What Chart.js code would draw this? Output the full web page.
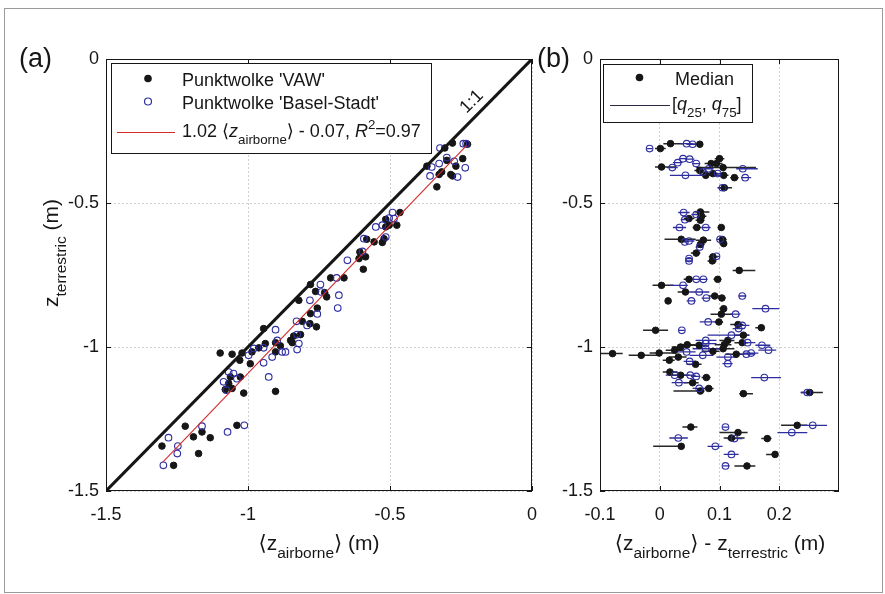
<!DOCTYPE html>
<html>
<head>
<meta charset="utf-8">
<script src="https://cdn.jsdelivr.net/npm/chart.js@4.4.1/dist/chart.umd.min.js"></script>
<style>
    html, body { margin: 0; padding: 0; background: #fff; }
    #wrap { position: relative; width: 885px; height: 594px; overflow: hidden; }
    #frame { position: absolute; left: 4px; top: 8px; width: 879px; height: 585px; border: 1px solid #9a9a9a; box-sizing: border-box; }
    canvas { position: absolute; left: 0; top: 0; }
</style>
</head>
<body>
<div id="wrap">
    <div id="frame"></div>
    <canvas id="chartA" width="885" height="594"></canvas>
    <canvas id="chartB" width="885" height="594"></canvas>
</div>
<script>
// Panel (a): terrestrial vs. mean airborne height
const vawAirborne = [-0.280, -0.307, -0.227, -0.370, -0.300, -0.244, -0.268, -0.318, -0.327, -0.286, -0.280, -0.335,
    -0.465, -0.515, -0.476, -0.515, -0.503, -0.521, -0.527, -0.556, -0.582, -0.606, -0.586, -0.609, -0.594, -0.709, -0.662, -0.723,
    -0.730, -0.762, -0.780, -0.756, -0.780, -0.821, -0.809, -0.782, -0.759, -0.945, -0.850, -0.839, -0.815, -0.844, -0.886, -0.903,
    -0.939, -0.962, -0.986,
    -1.098, -1.056, -1.021, -1.029, -0.992, -0.903, -1.015, -0.903, -1.080, -1.062, -1.068, -1.027, -1.056, -1.039, -1.221, -1.162,
    -1.192, -1.133, -1.303, -1.174, -1.262];
const vawTerrestric = [-0.292, -0.309, -0.296, -0.372, -0.352, -0.346, -0.372, -0.392, -0.401, -0.401, -0.406, -0.444,
    -0.533, -0.557, -0.577, -0.583, -0.577, -0.624, -0.637, -0.635, -0.626, -0.670, -0.687, -0.693, -0.730, -0.760, -0.760, -0.826,
    -0.811, -0.807, -0.783, -0.865, -0.884, -0.838, -0.911, -0.919, -0.930, -0.936, -0.977, -0.962, -0.957, -0.985, -0.996, -0.985,
    -0.988, -1.003, -1.017,
    -1.021, -1.025, -1.021, -1.046, -1.058, -1.154, -1.160, -1.017, -1.148, -1.104, -1.127, -1.104, -1.144, -1.272, -1.275, -1.295,
    -1.312, -1.315, -1.344, -1.370, -1.411];
const baselAirborne = [-0.324, -0.242, -0.232, -0.353, -0.359, -0.300, -0.235, -0.262, -0.327, -0.274,
    -0.491, -0.503, -0.486, -0.550, -0.527, -0.592, -0.515, -0.597, -0.650, -0.688, -0.680, -0.684, -0.745, -0.742, -0.782, -0.756,
    -0.829, -0.792, -0.903, -0.827, -0.821, -0.827, -0.897, -0.880, -0.868, -0.945, -0.980, -0.945, -0.915,
    -0.998, -0.927, -1.086, -1.068, -1.051, -1.039, -1.076, -1.013, -1.072, -1.162, -1.280, -1.247, -1.249, -1.298];
const baselTerrestric = [-0.309, -0.294, -0.294, -0.375, -0.406, -0.342, -0.378, -0.410, -0.363, -0.355,
    -0.533, -0.552, -0.554, -0.583, -0.577, -0.624, -0.618, -0.668, -0.699, -0.760, -0.820, -0.865, -0.783, -0.809, -0.838, -0.885,
    -0.911, -0.925, -0.940, -0.957, -0.988, -1.009, -0.977, -1.017, -1.017, -1.003, -1.005, -1.055, -1.035,
    -1.029, -1.104, -1.121, -1.087, -1.092, -1.110, -1.150, -1.272, -1.295, -1.275, -1.315, -1.344, -1.370, -1.411];
const oneToOne = [-1.5, 0];
const fitX = [-1.30, -0.23];
const fitY = [-1.40, -0.30];
const ticksA = [-1.5, -1, -0.5, 0];

// Panel (b): median difference with [q25, q75] range
const vawDiff = [0.001, 0.018, 0.067, 0.003, 0.100, 0.095, 0.086, 0.106, 0.125, 0.107, 0.077, 0.067, 0.089, 0.108,
    0.068, 0.070, 0.049, 0.068, 0.062, 0.103, 0.036, 0.073, 0.105, 0.107, 0.068, 0.061, 0.089, 0.088, 0.133,
    0.049, 0.097, 0.003, 0.043, 0.092, 0.104, 0.014, 0.107, 0.103, -0.007, 0.099, 0.131, 0.170, 0.140, 0.114, 0.108, 0.138,
    -0.079, -0.031, -0.001, 0.025, 0.035, 0.046, 0.066, 0.089, 0.031, 0.016, 0.060, 0.128, 0.106,
    0.017, 0.035, 0.055, 0.078, 0.082, 0.068, 0.140, 0.251, 0.052, 0.131, 0.120, 0.180, 0.230, 0.036, 0.193, 0.146];
const vawDiffZ = [-0.311, -0.294, -0.296, -0.375, -0.346, -0.363, -0.363, -0.377, -0.412, -0.404, -0.404, -0.387, -0.398, -0.447,
    -0.531, -0.546, -0.554, -0.560, -0.585, -0.585, -0.626, -0.629, -0.627, -0.641, -0.644, -0.674, -0.687, -0.701, -0.734,
    -0.765, -0.765, -0.786, -0.809, -0.823, -0.830, -0.840, -0.867, -0.886, -0.942, -0.913, -0.922, -0.933, -0.959, -0.977, -0.992, -0.985,
    -1.023, -1.029, -1.021, -1.011, -1.000, -0.992, -0.994, -1.015, -1.035, -1.046, -1.060, -1.025, -1.006,
    -1.087, -1.098, -1.124, -1.106, -1.144, -1.153, -1.162, -1.158, -1.278, -1.297, -1.316, -1.318, -1.272, -1.345, -1.373, -1.413];
const vawQ25 = [-0.008, 0.006, 0.045, -0.008, 0.092, 0.085, 0.075, 0.061, 0.118, 0.095, 0.068, 0.058, 0.080, 0.097,
    0.058, 0.062, 0.040, 0.060, 0.055, 0.097, 0.008, 0.060, 0.098, 0.100, 0.062, 0.052, 0.082, 0.080, 0.122,
    0.040, 0.090, -0.012, 0.030, 0.082, 0.098, 0.010, 0.100, 0.085, -0.028, 0.092, 0.118, 0.160, 0.125, 0.100, 0.092, 0.125,
    -0.100, -0.052, -0.017, 0.010, 0.020, 0.030, 0.050, 0.070, 0.015, 0.005, 0.045, 0.110, 0.085,
    0.005, 0.020, 0.040, 0.070, 0.070, 0.023, 0.133, 0.236, 0.038, 0.100, 0.107, 0.170, 0.203, -0.011, 0.178, 0.125];
const vawQ75 = [0.010, 0.040, 0.070, 0.028, 0.108, 0.105, 0.095, 0.161, 0.132, 0.115, 0.088, 0.075, 0.098, 0.121,
    0.083, 0.078, 0.058, 0.075, 0.070, 0.108, 0.060, 0.086, 0.112, 0.112, 0.075, 0.068, 0.098, 0.095, 0.160,
    0.058, 0.103, 0.023, 0.050, 0.100, 0.110, 0.018, 0.112, 0.122, 0.014, 0.106, 0.140, 0.175, 0.150, 0.125, 0.120, 0.148,
    -0.062, 0.000, 0.028, 0.040, 0.048, 0.060, 0.080, 0.100, 0.045, 0.025, 0.070, 0.140, 0.125,
    0.030, 0.050, 0.065, 0.085, 0.090, 0.075, 0.156, 0.273, 0.063, 0.147, 0.142, 0.187, 0.247, 0.041, 0.197, 0.160];
const baselDiff = [-0.017, 0.045, 0.055, 0.021, 0.030, 0.039, 0.050, 0.061, 0.043, 0.139, 0.143, 0.082, 0.072, 0.097, 0.105,
    0.040, 0.061, 0.042, 0.033, 0.077, 0.049, 0.042, 0.101, 0.067, 0.049, 0.095, 0.049,
    0.061, 0.073, 0.039, 0.066, 0.078, 0.138, 0.053, 0.177, 0.127, 0.037, 0.081, 0.138, 0.132, 0.120, 0.077, 0.077, 0.077, 0.147, 0.171, 0.182,
    0.072, 0.045, 0.050, 0.114, 0.114, 0.145, 0.153,
    0.025, 0.051, 0.061, 0.032, 0.066, 0.175, 0.247, 0.110, 0.125, 0.256, 0.221, 0.031, 0.093, 0.120, 0.110];
const baselDiffZ = [-0.311, -0.294, -0.296, -0.377, -0.360, -0.346, -0.348, -0.363, -0.404, -0.381, -0.412, -0.381, -0.392, -0.398, -0.447,
    -0.533, -0.540, -0.558, -0.585, -0.585, -0.632, -0.635, -0.626, -0.653, -0.693, -0.685, -0.701,
    -0.765, -0.765, -0.786, -0.809, -0.830, -0.823, -0.840, -0.867, -0.886, -0.942, -0.913, -0.925, -0.936, -0.959, -0.977, -0.988, -1.006, -0.985, -0.994, -1.011,
    -1.029, -1.017, -1.050, -1.035, -1.058, -1.025, -1.021,
    -1.098, -1.098, -1.102, -1.124, -1.144, -1.106, -1.158, -1.278, -1.318, -1.272, -1.297, -1.316, -1.345, -1.373, -1.413];
const baselQ25 = [-0.022, 0.035, 0.045, 0.012, 0.022, 0.032, 0.042, 0.054, 0.017, 0.128, 0.136, 0.074, 0.064, 0.090, 0.097,
    0.031, 0.053, 0.035, 0.022, 0.070, 0.040, 0.035, 0.095, 0.060, 0.043, 0.088, 0.043,
    0.053, 0.066, 0.017, 0.050, 0.070, 0.132, 0.045, 0.155, 0.118, 0.032, 0.067, 0.125, 0.122, 0.080, 0.060, 0.060, 0.055, 0.135, 0.160, 0.165,
    0.050, 0.030, 0.040, 0.095, 0.105, 0.130, 0.140,
    0.010, 0.040, 0.052, 0.020, 0.055, 0.153, 0.236, 0.105, 0.112, 0.233, 0.197, 0.016, 0.080, 0.107, 0.105];
const baselQ75 = [-0.012, 0.055, 0.065, 0.030, 0.038, 0.046, 0.058, 0.068, 0.100, 0.164, 0.153, 0.090, 0.080, 0.104, 0.115,
    0.050, 0.068, 0.050, 0.044, 0.085, 0.058, 0.048, 0.110, 0.073, 0.055, 0.100, 0.055,
    0.068, 0.080, 0.047, 0.083, 0.085, 0.145, 0.060, 0.200, 0.135, 0.042, 0.100, 0.150, 0.142, 0.150, 0.095, 0.095, 0.100, 0.160, 0.185, 0.195,
    0.090, 0.060, 0.060, 0.130, 0.122, 0.160, 0.165,
    0.040, 0.060, 0.068, 0.045, 0.075, 0.203, 0.258, 0.115, 0.138, 0.280, 0.247, 0.047, 0.105, 0.132, 0.117];
const ticksBx = [-0.1, 0, 0.1, 0.2];
const ticksBy = [-1.5, -1, -0.5, 0];

const FONT = '"Liberation Sans", Arial, "DejaVu Sans", sans-serif';
const INK = '#161616';
const NAVY = '#2e2ea0';
const RED = '#d42a2a';
const GRID = '#cfcfcf';

const points = (xs, ys) => xs.map((x, i) => ({ x, y: ys[i] }));
// each bar is two points followed by a gap so the line breaks between bars
const bars = (lo, hi, ys) => ys.flatMap((y, i) => [{ x: lo[i], y }, { x: hi[i], y }, { x: null, y: null }]);

/**
 * Text with sub/superscripts, MATLAB tex style
 */
function partFont(p, size) {
    const s = (p.sub || p.sup) ? size * 0.74 : size;
    return (p.it ? 'italic ' : '') + s.toFixed(1) + 'px ' + FONT;
}

function drawRich(ctx, parts, x, y, size, align) {
    let width = 0;
    parts.forEach((p) => { ctx.font = partFont(p, size); width += ctx.measureText(p.t).width; });
    let cx = align === 'center' ? x - width / 2 : x;
    ctx.textAlign = 'left';
    ctx.textBaseline = 'alphabetic';
    parts.forEach((p) => {
        ctx.font = partFont(p, size);
        const dy = p.sub ? size * 0.40 : (p.sup ? -size * 0.42 : 0);
        ctx.fillText(p.t, cx, y + dy);
        cx += ctx.measureText(p.t).width;
    });
}

/**
 * Box around the axes with inward ticks on all four sides
 */
function drawAxesBox(chart) {
    const { ctx, chartArea: a, scales } = chart;
    ctx.save();
    ctx.strokeStyle = INK;
    ctx.lineWidth = 1;
    ctx.strokeRect(a.left + 0.5, a.top + 0.5, a.right - a.left - 1, a.bottom - a.top - 1);
    ctx.beginPath();
    scales.x.ticks.forEach((t) => {
        const px = Math.round(scales.x.getPixelForValue(t.value)) + 0.5;
        ctx.moveTo(px, a.bottom); ctx.lineTo(px, a.bottom - 5);
        ctx.moveTo(px, a.top); ctx.lineTo(px, a.top + 5);
    });
    scales.y.ticks.forEach((t) => {
        const py = Math.round(scales.y.getPixelForValue(t.value)) + 0.5;
        ctx.moveTo(a.left, py); ctx.lineTo(a.left + 5, py);
        ctx.moveTo(a.right, py); ctx.lineTo(a.right - 5, py);
    });
    ctx.stroke();
    ctx.restore();
}

function axisOptions(min, max, tickValues, fitFn, pad) {
    return {
        type: 'linear',
        min,
        max,
        afterBuildTicks: (scale) => { scale.ticks = tickValues.map((v) => ({ value: v })); },
        afterFit: fitFn,
        grid: { color: GRID, lineWidth: 1, drawTicks: false },
        border: { display: false, dash: [2, 2] },
        ticks: {
            color: INK,
            font: { family: FONT, size: 18 },
            padding: pad,
            callback: (v) => String(v),
        },
    };
}

const baseOptions = {
    responsive: false,
    animation: false,
    devicePixelRatio: 1,
    events: [],
    plugins: { legend: { display: false }, tooltip: { enabled: false } },
};

// ---------- panel (a) ----------
const panelA = {
    id: 'panelA',
    afterDraw(chart) {
        const { ctx } = chart;
        drawAxesBox(chart);
        ctx.save();

        // legend
        ctx.fillStyle = '#fff';
        ctx.fillRect(111, 63, 320, 90);
        ctx.strokeStyle = INK;
        ctx.lineWidth = 1;
        ctx.strokeRect(111.5, 63.5, 320, 90);
        ctx.fillStyle = INK;
        ctx.beginPath(); ctx.arc(148, 78.5, 3.8, 0, Math.PI * 2); ctx.fill();
        ctx.strokeStyle = NAVY; ctx.lineWidth = 1.2;
        ctx.beginPath(); ctx.arc(148, 101.5, 3.5, 0, Math.PI * 2); ctx.stroke();
        ctx.strokeStyle = RED; ctx.lineWidth = 1.2;
        ctx.beginPath(); ctx.moveTo(117, 132.5); ctx.lineTo(175, 132.5); ctx.stroke();
        ctx.fillStyle = INK;
        drawRich(ctx, [{ t: "Punktwolke 'VAW'" }], 182, 86, 18, 'left');
        drawRich(ctx, [{ t: "Punktwolke 'Basel-Stadt'" }], 182, 109, 18, 'left');
        drawRich(ctx, [{ t: '1.02 \u27E8' }, { t: 'z', it: 1 }, { t: 'airborne', sub: 1 }, { t: '\u27E9 - 0.07, ' },
            { t: 'R', it: 1 }, { t: '2', sup: 1 }, { t: '=0.97' }], 182, 137, 18, 'left');

        // 1:1 label along the diagonal
        ctx.save();
        ctx.translate(471, 101);
        ctx.rotate(-Math.PI / 4);
        drawRich(ctx, [{ t: '1:1' }], 0, 6, 18, 'center');
        ctx.restore();

        // panel letter and axis titles
        drawRich(ctx, [{ t: '(a)' }], 19, 67, 27, 'left');
        drawRich(ctx, [{ t: '\u27E8z' }, { t: 'airborne', sub: 1 }, { t: '\u27E9 (m)' }], 319, 550, 21, 'center');
        ctx.save();
        ctx.translate(58, 253);
        ctx.rotate(-Math.PI / 2);
        drawRich(ctx, [{ t: 'z' }, { t: 'terrestric', sub: 1 }, { t: ' (m)' }], 0, 0, 21, 'center');
        ctx.restore();
        ctx.restore();
    },
};

new Chart(document.getElementById('chartA'), {
    type: 'scatter',
    data: {
        datasets: [
            { data: points(oneToOne, oneToOne), showLine: true, borderColor: INK, borderWidth: 3, pointRadius: 0, order: 0 },
            { data: points(fitX, fitY), showLine: true, borderColor: RED, borderWidth: 1.1, pointRadius: 0, order: 0 },
            { data: points(baselAirborne, baselTerrestric), pointRadius: 3.3, backgroundColor: 'rgba(0,0,0,0)', borderColor: NAVY, borderWidth: 1.1, order: 1 },
            { data: points(vawAirborne, vawTerrestric), pointRadius: 3.3, backgroundColor: INK, borderColor: INK, borderWidth: 1, order: 2 },
        ],
    },
    options: {
        ...baseOptions,
        layout: { autoPadding: false, padding: { left: 0, top: 59, right: 353, bottom: 0 } },
        scales: {
            x: axisOptions(-1.5, 0, ticksA, (s) => { s.height = 103; s.paddingLeft = 0; s.paddingRight = 0; }, 13),
            y: axisOptions(-1.5, 0, ticksA, (s) => { s.width = 106; s.paddingTop = 0; s.paddingBottom = 0; }, 7),
        },
    },
    plugins: [panelA],
});

// ---------- panel (b) ----------
const panelB = {
    id: 'panelB',
    afterDraw(chart) {
        const { ctx } = chart;
        drawAxesBox(chart);
        ctx.save();

        // legend
        ctx.fillStyle = '#fff';
        ctx.fillRect(603, 64, 149, 58);
        ctx.strokeStyle = INK;
        ctx.lineWidth = 1;
        ctx.strokeRect(603.5, 64.5, 149, 58);
        ctx.fillStyle = INK;
        ctx.beginPath(); ctx.arc(639.5, 77.5, 3.8, 0, Math.PI * 2); ctx.fill();
        ctx.strokeStyle = '#2a2a48'; ctx.lineWidth = 1.2;
        ctx.beginPath(); ctx.moveTo(610, 105.5); ctx.lineTo(670, 105.5); ctx.stroke();
        drawRich(ctx, [{ t: 'Median' }], 675, 85, 18, 'left');
        drawRich(ctx, [{ t: '[' }, { t: 'q', it: 1 }, { t: '25', sub: 1 }, { t: ', ' }, { t: 'q', it: 1 }, { t: '75', sub: 1 }, { t: ']' }],
            672, 110, 18, 'left');

        drawRich(ctx, [{ t: '(b)' }], 537, 67, 27, 'left');
        drawRich(ctx, [{ t: '\u27E8z' }, { t: 'airborne', sub: 1 }, { t: '\u27E9 - z' }, { t: 'terrestric', sub: 1 }, { t: ' (m)' }],
            720, 550, 21, 'center');
        ctx.restore();
    },
};

new Chart(document.getElementById('chartB'), {
    type: 'scatter',
    data: {
        datasets: [
            { data: bars(vawQ25, vawQ75, vawDiffZ), showLine: true, spanGaps: false, borderColor: '#262626', borderWidth: 1.5, pointRadius: 0, order: 4 },
            { data: bars(baselQ25, baselQ75, baselDiffZ), showLine: true, spanGaps: false, borderColor: NAVY, borderWidth: 1.3, pointRadius: 0, order: 3 },
            { data: points(vawDiff, vawDiffZ), pointRadius: 3.3, backgroundColor: INK, borderColor: INK, borderWidth: 1, order: 2 },
            { data: points(baselDiff, baselDiffZ), pointRadius: 3.3, backgroundColor: 'rgba(0,0,0,0)', borderColor: NAVY, borderWidth: 1.1, order: 1 },
        ],
    },
    options: {
        ...baseOptions,
        layout: { autoPadding: false, padding: { left: 540, top: 59, right: 46, bottom: 0 } },
        scales: {
            x: axisOptions(-0.1, 0.3, ticksBx, (s) => { s.height = 103; s.paddingLeft = 0; s.paddingRight = 0; }, 13),
            y: axisOptions(-1.5, 0, ticksBy, (s) => { s.width = 60; s.paddingTop = 0; s.paddingBottom = 0; }, 7),
        },
    },
    plugins: [panelB],
});
</script>
</body>
</html>
